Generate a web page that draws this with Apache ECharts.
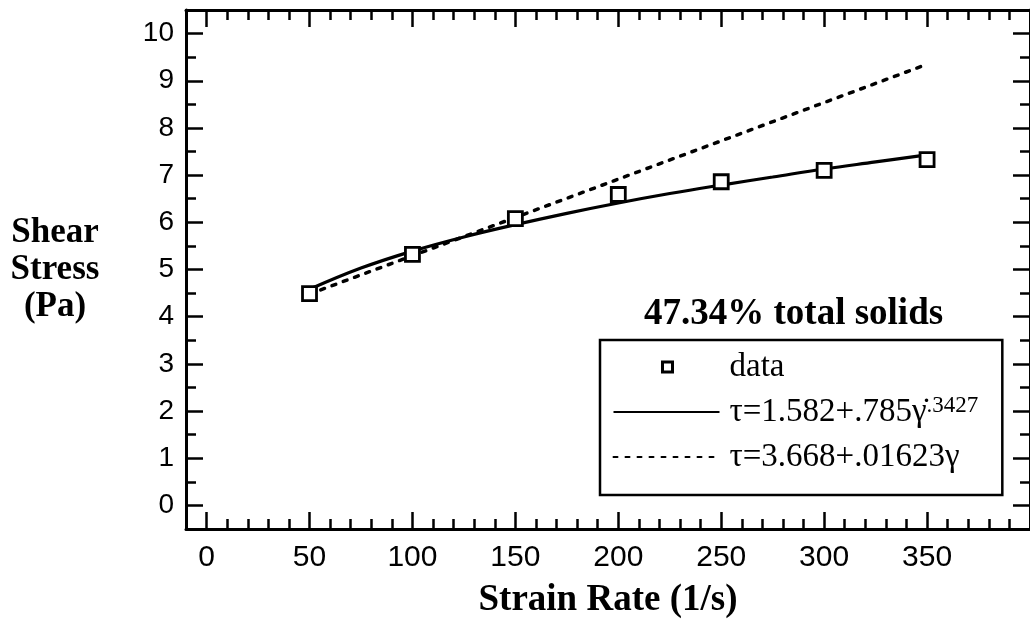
<!DOCTYPE html>
<html>
<head>
<meta charset="utf-8">
<script src="https://cdn.jsdelivr.net/npm/echarts@6/dist/echarts.min.js"></script>
<style>
html,body{margin:0;padding:0;background:#fff;}
#chart{width:1030px;height:628px;}
</style>
</head>
<body>
<div id="chart"></div>
<script>
// ---- data ----
const strainRate = [50, 100, 150, 200, 250, 300, 350];
const shearStress = [4.49, 5.32, 6.08, 6.59, 6.86, 7.10, 7.33];
const powerFitX = [50, 75, 100, 125, 150, 175, 200, 225, 250, 275, 300, 325, 350];
const powerFitY = [4.58, 5.03, 5.39, 5.69, 5.95, 6.19, 6.41, 6.61, 6.79, 6.96, 7.13, 7.28, 7.43];
const linearFitX = [50, 350];
const linearFitY = [4.48, 9.35];
const xMajorTicks = [0, 50, 100, 150, 200, 250, 300, 350];
const xMinorTicks = [10,20,30,40,60,70,80,90,110,120,130,140,160,170,180,190,210,220,230,240,260,270,280,290,310,320,330,340,360,370,380,390];
const yMajorTicks = [0,1,2,3,4,5,6,7,8,9,10];
const yMinorTicks = [0.5,1.5,2.5,3.5,4.5,5.5,6.5,7.5,8.5,9.5];

const serif = '"Liberation Serif", "Times New Roman", serif';
const sans = '"Liberation Sans", Arial, sans-serif';
const XMIN = -10, XMAX = 400, YMIN = -0.5, YMAX = 10.5;

function xAxisDef(pos, ticks, len, major) {
  return {
    type: 'value', position: pos, min: XMIN, max: XMAX,
    axisLine: {show: major, onZero: false, lineStyle: {color: '#000', width: 3}},
    splitLine: {show: false},
    axisTick: {show: true, inside: true, length: len, customValues: ticks, lineStyle: {color: '#000', width: 2.5}},
    axisLabel: {show: major && pos === 'bottom', customValues: ticks, color: '#000', fontFamily: sans, fontSize: 30, margin: 14},
    name: (major && pos === 'bottom') ? 'Strain Rate (1/s)' : '',
    nameLocation: 'middle', nameGap: 71,
    nameTextStyle: {fontFamily: serif, fontWeight: 'bold', fontSize: 37, color: '#000', verticalAlign: 'middle'}
  };
}
function yAxisDef(pos, ticks, len, major) {
  return {
    type: 'value', position: pos, min: YMIN, max: YMAX,
    axisLine: {show: major, onZero: false, lineStyle: {color: '#000', width: 3}},
    splitLine: {show: false},
    axisTick: {show: true, inside: true, length: len, customValues: ticks, lineStyle: {color: '#000', width: 2.5}},
    axisLabel: {show: major && pos === 'left', customValues: ticks, color: '#000', fontFamily: sans, fontSize: 28, margin: 12},
    name: (major && pos === 'left') ? 'Shear\nStress\n(Pa)' : '',
    nameLocation: 'middle', nameGap: 131, nameRotate: 0,
    nameTextStyle: {fontFamily: serif, fontWeight: 'bold', fontSize: 35, lineHeight: 37, color: '#000', align: 'center', verticalAlign: 'middle'}
  };
}

const option = {
  backgroundColor: '#fff',
  animation: false,
  grid: {left: 186, right: -7, top: 10, bottom: 99, containLabel: false},
  title: {
    text: '47.34% total solids', left: 639, top: 291,
    textStyle: {fontFamily: serif, fontWeight: 'bold', fontSize: 37, color: '#000'}
  },
  legend: {
    orient: 'vertical', left: 600, top: 340,
    data: [
      {name: 'data', icon: 'path://M0,0L0,0M106,12L106,12M49,1L59,1L59,11L49,11Z',
       itemStyle: {color: '#fff', borderColor: '#000', borderWidth: 3, opacity: 1}},
      {name: 'power'},
      {name: 'linear'}
    ],
    backgroundColor: '#fff', borderColor: '#000', borderWidth: 2.5,
    padding: [9, 24, 20, 12],
    itemWidth: 106, itemHeight: 12, itemGap: 9,
    selectedMode: false,
    textStyle: {
      fontFamily: serif, fontSize: 33, color: '#000', lineHeight: 36, padding: [0, 0, 0, 5],
      rich: {
        m: {fontFamily: serif, fontSize: 33, color: '#000', lineHeight: 36},
        sup: {fontFamily: serif, fontSize: 23, color: '#000', lineHeight: 22, verticalAlign: 'top'}
      }
    },
    formatter: function (name) {
      if (name === 'data') return '{m|data}';
      if (name === 'power') return '{m|\u03c4=1.582+.785\u03b3\u0307}{sup|.3427}';
      return '{m|\u03c4=3.668+.01623\u03b3}';
    }
  },
  xAxis: [
    xAxisDef('bottom', xMajorTicks, 17, true),
    xAxisDef('bottom', xMinorTicks, 10, false),
    xAxisDef('top', xMajorTicks, 17, true),
    xAxisDef('top', xMinorTicks, 10, false)
  ],
  yAxis: [
    yAxisDef('left', yMajorTicks, 17, true),
    yAxisDef('left', yMinorTicks, 10, false),
    yAxisDef('right', yMajorTicks, 17, true),
    yAxisDef('right', yMinorTicks, 10, false)
  ],
  series: [
    {
      name: 'linear', type: 'line', xAxisIndex: 0, yAxisIndex: 0,
      data: linearFitX.map((x, i) => [x, linearFitY[i]]),
      symbol: 'none',
      itemStyle: {color: 'rgba(0,0,0,0)', borderColor: 'rgba(0,0,0,0)', borderWidth: 0},
      lineStyle: {color: '#000', width: 3.5, type: [4, 8], cap: 'round'}, z: 2
    },
    {
      name: 'power', type: 'line', xAxisIndex: 0, yAxisIndex: 0,
      data: powerFitX.map((x, i) => [x, powerFitY[i]]),
      symbol: 'none', smooth: 0.4,
      itemStyle: {color: 'rgba(0,0,0,0)', borderColor: 'rgba(0,0,0,0)', borderWidth: 0},
      lineStyle: {color: '#000', width: 3.2}, z: 3
    },
    {
      name: 'data', type: 'scatter', xAxisIndex: 0, yAxisIndex: 0,
      data: strainRate.map((x, i) => [x, shearStress[i]]),
      symbol: 'rect', symbolSize: 14,
      itemStyle: {color: '#fff', borderColor: '#000', borderWidth: 2.8, opacity: 1}, z: 4
    }
  ]
};
const chart = echarts.init(document.getElementById('chart'), null, {renderer: 'canvas'});
chart.setOption(option);
</script>
</body>
</html>
